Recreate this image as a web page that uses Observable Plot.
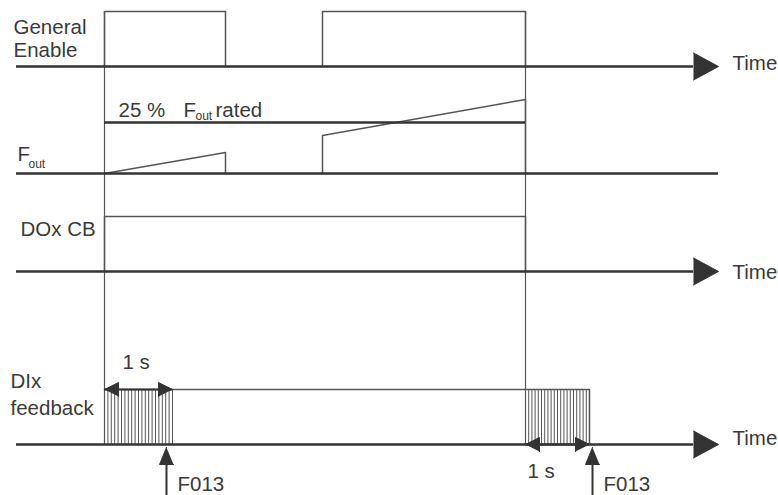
<!DOCTYPE html>
<html><head><meta charset="utf-8">
<script src="https://cdn.jsdelivr.net/npm/d3@7"></script>
<script src="https://cdn.jsdelivr.net/npm/@observablehq/plot@0.6"></script>
<style>body{margin:0;background:#fff}svg{display:block}</style>
</head><body><div id="chart"></div>
<script>
// ---- Diagram data (diagram units: x = time, y = signal level, downward) ----
const laneNames = ["General Enable", "Fout", "DOx CB", "DIx feedback"];
const laneBaseline = [66, 173, 271, 444];
const laneHigh = [11, 122, 216, 389];
const lanesWithTimeArrow = [0, 2, 3];
const timeLabelBaselines = [69, 278, 444];
const axisStart = [16];
const axisEnd = [693, 718];           // arrow base, arrow tip (Fout axis ends at tip)
const enablePulses = [[104, 225], [322, 525]];
const foutRamps = [[104, 0, 225, 21], [322, 38, 525, 74]]; // t0, level0, t1, level1
const foutRatedWindow = [104, 525];
const doxOnWindow = [104, 525];
const feedbackFaultWindows = [[104, 172], [525, 589]];
const faultTimes = [166, 592];
const faultCode = "F013";
const durationLabel = "1 s";
const timeLabel = "Time";

const dark = "#333", grey = "#555", textCol = "#3a3a3a";
const font = "Liberation Sans, Arial, sans-serif";

// Build tables
const axes = laneBaseline.map((b, i) => ({lane: i, x1: axisStart[0], x2: lanesWithTimeArrow.includes(i) ? axisEnd[0] : axisEnd[1], y: b}));
const arrowTris = [];
lanesWithTimeArrow.forEach(i => {
  const b = laneBaseline[i];
  arrowTris.push({z: "t" + i, x: axisEnd[0], y: b - 13.5}, {z: "t" + i, x: axisEnd[1], y: b}, {z: "t" + i, x: axisEnd[0], y: b + 13.5});
});
const gePts = enablePulses.flatMap(([a, b], k) => [
  {z: k, x: a, y: laneBaseline[0]}, {z: k, x: a, y: laneHigh[0]}, {z: k, x: b, y: laneHigh[0]}, {z: k, x: b, y: laneBaseline[0]}]);
const foutPts = foutRamps.flatMap(([a, l0, b, l1], k) => [
  {z: k, x: a, y: laneBaseline[1]}, {z: k, x: a, y: laneBaseline[1] - l0}, {z: k, x: b, y: laneBaseline[1] - l1}, {z: k, x: b, y: laneBaseline[1]}]);
const doxPts = [
  {x: doxOnWindow[0], y: laneBaseline[2]}, {x: doxOnWindow[0], y: laneHigh[2]},
  {x: doxOnWindow[1], y: laneHigh[2]}, {x: doxOnWindow[1], y: laneBaseline[2]}];
const [w1, w2] = feedbackFaultWindows;
const dixPts = [
  {x: w1[0], y: laneHigh[3]}, {x: w2[1], y: laneHigh[3]}, {x: w2[1], y: laneBaseline[3]}];
const hatch = feedbackFaultWindows.flatMap(([a, b]) => d3.range(0, 21).map(i => ({x: a + (b - a) * i / 20})));
// dimension arrows: first at high level, second at baseline
const dims = [{a: w1[0], b: w1[1], y: laneHigh[3], ty: laneHigh[3] - 21, tx: w1[0] + 18},
              {a: w2[0], b: w2[1], y: laneBaseline[3], ty: laneBaseline[3] + 33, tx: w2[0] + 2}];
const dimTris = dims.flatMap((d, k) => [
  {z: "l" + k, x: d.a, y: d.y}, {z: "l" + k, x: d.a + 14, y: d.y - 7}, {z: "l" + k, x: d.a + 14, y: d.y + 7},
  {z: "r" + k, x: d.b, y: d.y}, {z: "r" + k, x: d.b - 14, y: d.y - 7}, {z: "r" + k, x: d.b - 14, y: d.y + 7}]);
const faultTris = faultTimes.flatMap((t, k) => [
  {z: k, x: t, y: 447}, {z: k, x: t - 7, y: 464}, {z: k, x: t + 7, y: 464}]);

const labels = [
  {t: "General", x: 13, y: 33}, {t: "Enable", x: 13, y: 56},
  {t: "F", x: 17, y: 160},
  {t: "DOx CB", x: 20, y: 235},
  {t: "DIx", x: 10, y: 387}, {t: "feedback", x: 10, y: 414},
  {t: "25 %", x: 118, y: 116}, {t: "F", x: 183, y: 116}, {t: "rated", x: 215, y: 116},
  ...lanesWithTimeArrow.map((i, k) => ({t: timeLabel, x: 732, y: timeLabelBaselines[k]})),
  ...dims.map(d => ({t: durationLabel, x: d.tx, y: d.ty})),
  ...faultTimes.map(t => ({t: faultCode, x: t + 11, y: 490}))
];
const subs = [{t: "out", x: 28, y: 167}, {t: "out", x: 195, y: 119}];

const chart = Plot.plot({
  width: 778, height: 495, margin: 0,
  x: {domain: [0, 778], range: [0, 778], axis: null},
  y: {domain: [0, 495], range: [0, 495], axis: null},
  marks: [
    // guide verticals
    Plot.ruleX(doxOnWindow, {x: d => d, y1: laneHigh[0], y2: laneBaseline[3], stroke: grey, strokeWidth: 1.2}),
    // hatch
    Plot.ruleX(hatch, {x: "x", y1: laneHigh[3], y2: laneBaseline[3], stroke: grey, strokeWidth: 1}),
    // signals
    Plot.line(gePts, {x: "x", y: "y", z: "z", stroke: grey, strokeWidth: 1.5}),
    Plot.line(foutPts, {x: "x", y: "y", z: "z", stroke: grey, strokeWidth: 1.5}),
    Plot.ruleY([laneHigh[1]], {y: d => d, x1: foutRatedWindow[0], x2: foutRatedWindow[1], stroke: dark, strokeWidth: 2.5}),
    Plot.line(doxPts, {x: "x", y: "y", stroke: grey, strokeWidth: 1.5}),
    Plot.line(dixPts, {x: "x", y: "y", stroke: grey, strokeWidth: 1.5}),
    // axes
    Plot.ruleY(axes, {y: "y", x1: "x1", x2: "x2", stroke: dark, strokeWidth: 2.5}),
    Plot.line(arrowTris, {x: "x", y: "y", z: "z", fill: dark, stroke: dark, strokeWidth: 1}),
    // dimension arrows
    Plot.ruleY(dims, {y: "y", x1: "a", x2: "b", stroke: dark, strokeWidth: 2}),
    Plot.line(dimTris, {x: "x", y: "y", z: "z", fill: dark, stroke: dark, strokeWidth: 1}),
    // fault arrows
    Plot.ruleX(faultTimes, {x: d => d, y1: 460, y2: 495, stroke: dark, strokeWidth: 2}),
    Plot.line(faultTris, {x: "x", y: "y", z: "z", fill: dark, stroke: dark, strokeWidth: 1}),
    // text
    Plot.text(labels, {x: "x", y: "y", text: "t", textAnchor: "start", lineAnchor: "bottom", fontSize: 20.5, fontFamily: font, fill: textCol}),
    Plot.text(subs, {x: "x", y: "y", text: "t", textAnchor: "start", lineAnchor: "bottom", fontSize: 12, fontFamily: font, fill: textCol})
  ]
});
document.getElementById("chart").append(chart);
</script>
</body></html>
